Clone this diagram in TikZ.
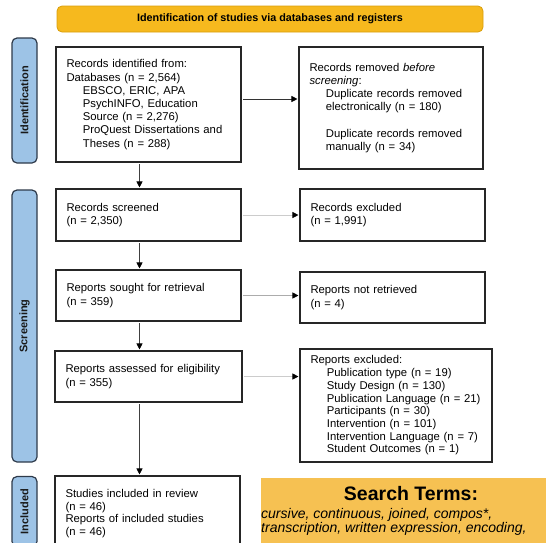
\documentclass[tikz,border=0pt]{standalone}
\usepackage{fontspec}
\setmainfont{Liberation Sans}
\usepackage{tikz}
\usetikzlibrary{arrows.meta,calc}
\definecolor{bannerorange}{HTML}{F6B91E}
\definecolor{bannerline}{HTML}{D99E0B}
\definecolor{searchorange}{HTML}{F6C152}
\definecolor{barblue}{HTML}{9DC3E6}
\definecolor{barline}{HTML}{2E3A4A}
\newcommand{\ind}{\hspace*{1.45em}}

\begin{document}
\begin{tikzpicture}[x=1pt,y=-1pt,
    box/.style={draw=black!85, line width=1.1pt, align=left, inner xsep=10.5pt, inner ysep=0pt,
      font=\fontsize{11.3}{13.2}\selectfont},
    sidebar/.style={draw=barline, fill=barblue, line width=1.2pt, rounded corners=5pt, rotate=90,
      minimum height=25pt, inner sep=0pt, text=black!90, font=\fontsize{11}{13}\selectfont\bfseries},
    arr/.style={-{Triangle[length=6pt,width=6pt,color=black]}, line width=0.7pt,
      shorten >=1pt, shorten <=1.5pt}]
          \clip (0,0) rectangle (546,542);
          % Header banner
          \node[draw=bannerline, fill=bannerorange, rounded corners=5pt, line width=0.8pt,
            minimum width=426pt, minimum height=26pt, font=\fontsize{10.8}{13}\selectfont\bfseries]
            (banner) at (270,19) {Identification of studies via databases and registers};
          % Phase bars on the left
          \node[sidebar, minimum width=125pt] (idbar) at (24.5,100.5) {Identification};
          \node[sidebar, minimum width=272pt] (scrbar) at (24.5,326) {Screening};
          \node[sidebar, minimum width=70pt] (incbar) at (24.5,511.5) {Included};
          % Left column
          \node[box, text width=164pt, minimum height=115pt] (ident) at (148.5,104.5)
            {Records identified from:\\
             Databases (n = 2,564)\\
             \ind EBSCO, ERIC, APA\\
             \ind PsychINFO, Education\\
             \ind Source (n = 2,276)\\
             \ind ProQuest Dissertations and\\
             \ind Theses (n = 288)};
          \node[box, text width=164pt, minimum height=52pt] (screened) at (148.5,215)
            {Records screened\\(n = 2,350)};
          \node[box, text width=164pt, minimum height=51pt] (sought) at (148.5,295.5)
            {Reports sought for retrieval\\(n = 359)};
          \node[box, text width=166pt, minimum height=51pt] (assessed) at (148.5,376.5)
            {Reports assessed for eligibility\\(n = 355)};
          \node[box, text width=164pt, minimum height=75pt, font=\fontsize{11.3}{12.7}\selectfont]
            (included) at (147.5,513.5)
            {Studies included in review\\(n = 46)\\Reports of included studies\\(n = 46)};
          % Right column
          \node[box, text width=163pt, minimum height=122pt] (removed) at (391,108)
            {Records removed \textit{before}\\
             \textit{screening}:\\
             \ind Duplicate records removed\\
             \ind electronically (n = 180)\\[13.2pt]
             \ind Duplicate records removed\\
             \ind manually (n = 34)};
          \node[box, text width=164pt, minimum height=52pt] (excl) at (392.5,215)
            {Records excluded\\(n = 1,991)};
          \node[box, text width=164pt, minimum height=51pt] (notretr) at (392.5,297.5)
            {Reports not retrieved\\(n = 4)};
          \node[box, text width=171pt, minimum height=113pt, font=\fontsize{11.3}{12.7}\selectfont]
            (reportsexcl) at (396,405.5)
            {Reports excluded:\\
             \ind Publication type (n = 19)\\
             \ind Study Design (n = 130)\\
             \ind Publication Language (n = 21)\\
             \ind Participants (n = 30)\\
             \ind Intervention (n = 101)\\
             \ind Intervention Language (n = 7)\\
             \ind Student Outcomes (n = 1)};
          % Arrows down the left column
          \draw[arr, black!75] ([xshift=-9pt]ident.south) -- ([xshift=-9pt]ident.south |- screened.north);
          \draw[arr, black!75] ([xshift=-9pt]screened.south) -- ([xshift=-9pt]screened.south |- sought.north);
          \draw[arr, black!75] ([xshift=-9pt]sought.south) -- ([xshift=-9pt]sought.south |- assessed.north);
          \draw[arr, black!75] ([xshift=-9pt]assessed.south) -- ([xshift=-9pt]assessed.south |- included.north);
          % Arrows to the right column
          \draw[arr, black!80] ([yshift=5.5pt]ident.east) -- ([yshift=5.5pt]ident.east -| removed.west);
          \draw[arr, gray!40] (screened.east) -- (screened.east -| excl.west);
          \draw[arr, gray!65] (sought.east) -- (sought.east -| notretr.west);
          \draw[arr, gray!40] (assessed.east) -- (assessed.east -| reportsexcl.west);
          % Search terms panel
          \node[fill=searchorange, anchor=north west, minimum width=300pt, minimum height=80pt, inner sep=0pt]
            (search) at (261,478) {};
          \node[inner sep=0pt, font=\fontsize{19.5}{22}\selectfont\bfseries] (sthead) at (411,494) {Search Terms:};
          \node[anchor=north west, inner sep=0pt, align=left, font=\fontsize{14}{14}\selectfont\itshape]
            (stlist) at (261,508.5) {cursive, continuous, joined, compos*,\\transcription, written expression, encoding,};
\end{tikzpicture}
\end{document}
